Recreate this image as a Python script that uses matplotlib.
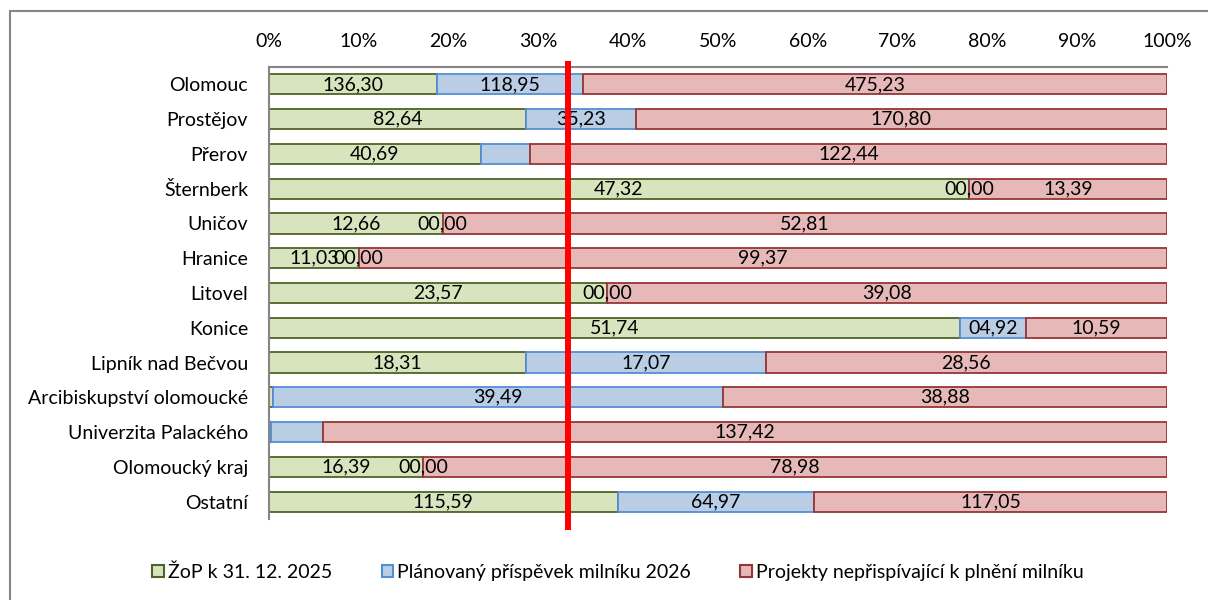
import matplotlib
matplotlib.use("Agg")
import matplotlib.pyplot as plt
from matplotlib.patches import Patch, Rectangle
import matplotlib.transforms as mtransforms
import numpy as np

plt.rcParams['font.family'] = ['Lato', 'DejaVu Sans']

categories = ["Olomouc", "Prostějov", "Přerov", "Šternberk", "Uničov", "Hranice",
              "Litovel", "Konice", "Lipník nad Bečvou", "Arcibiskupství olomoucké",
              "Univerzita Palackého", "Olomoucký kraj", "Ostatní"]
zop = [136.30, 82.64, 40.69, 47.32, 12.66, 11.03, 23.57, 51.74, 18.31, 0.35, 0.30, 16.39, 115.59]
planovany = [118.95, 35.23, 9.40, 0.00, 0.00, 0.00, 0.00, 4.92, 17.07, 39.49, 8.50, 0.00, 64.97]
neprispivajici = [475.23, 170.80, 122.44, 13.39, 52.81, 99.37, 39.08, 10.59, 28.56, 38.88, 137.42, 78.98, 117.05]
series_names = ["ŽoP k 31. 12. 2025", "Plánovaný příspěvek milníku 2026",
                "Projekty nepřispívající k plnění milníku"]
x_ticks = [0, 10, 20, 30, 40, 50, 60, 70, 80, 90, 100]
milestone_pct = 100 / 3
# segments whose data label is not displayed: (category index, series index)
hidden_labels = {(2, 1), (9, 0), (10, 0), (10, 1)}

fills = ["#D7E4BD", "#B9CDE5", "#E6B9B8"]
edges = ["#4F6228", "#558ED5", "#953735"]
FS = 14

W, H = 1208, 600
fig = plt.figure(figsize=(W / 100, H / 100), dpi=100)
ax = fig.add_axes([269 / W, 81 / H, (1167 - 269) / W, (519 - 67) / H])

data = np.array([zop, planovany, neprispivajici])
totals = data.sum(axis=0)
pct = data / totals * 100
y = np.arange(len(categories))
left = np.zeros(len(categories))
for s in range(3):
    ax.barh(y, pct[s], left=left, height=0.58, color=fills[s], edgecolor=edges[s],
            linewidth=1.3, zorder=2)
    for i in range(len(categories)):
        if (i, s) in hidden_labels:
            continue
        cx = left[i] + pct[s][i] / 2
        txt = f"{data[s][i]:05.2f}".replace(".", ",")
        ax.text(cx, y[i], txt, ha="center", va="center", fontsize=FS,
                color="black", zorder=4)
    left += pct[s]

ax.set_xlim(0, 100)
ax.set_ylim(len(categories) - 0.5, -0.5)
ax.set_yticks(y)
ax.set_yticklabels(categories, fontsize=FS)
ax.set_xticks(x_ticks)
ax.set_xticklabels([f"{t}%" for t in x_ticks], fontsize=FS)
ax.xaxis.tick_top()
ax.tick_params(axis="both", length=0)
ax.tick_params(axis="x", pad=12)
ax.tick_params(axis="y", pad=15)
for side in ["right", "bottom"]:
    ax.spines[side].set_visible(False)
for side in ["left", "top"]:
    ax.spines[side].set_color("#868686")
    ax.spines[side].set_linewidth(1.5)

trans = mtransforms.blended_transform_factory(ax.transData, ax.transAxes)
ax.plot([milestone_pct, milestone_pct], [-0.024, 1.014], color="#FF0000",
        linewidth=4.3, transform=trans, clip_on=False, zorder=5,
        solid_capstyle="butt")

handles = [Patch(facecolor=fills[s], edgecolor=edges[s], linewidth=1.5) for s in range(3)]
fig.legend(handles, series_names, loc="center", bbox_to_anchor=(618 / W, 1 - 572 / H),
           ncol=3, frameon=False, fontsize=FS, handlelength=0.6, handleheight=0.6,
           handletextpad=0.2, columnspacing=2.55)

fig.patches.append(Rectangle((10 / W, -0.1), 1.2, 1 - 11 / H + 0.1, transform=fig.transFigure,
                             fill=False, edgecolor="#868686", linewidth=1.5, clip_on=False))

fig.savefig("out.png", dpi=100)
